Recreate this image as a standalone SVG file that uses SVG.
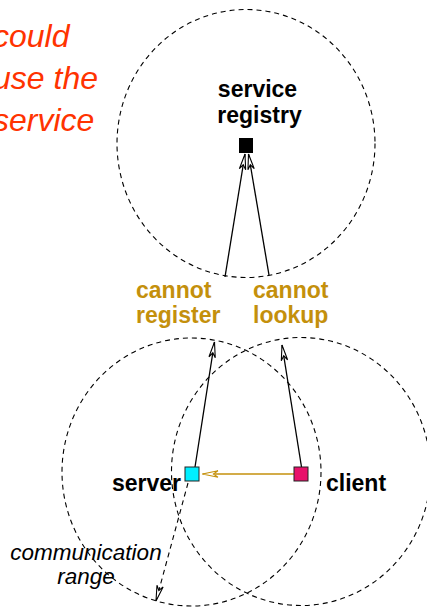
<svg xmlns="http://www.w3.org/2000/svg" width="427" height="608" viewBox="0 0 427 608">
  <style>
    .range { fill: none; stroke: #000; stroke-width: 1.1; stroke-dasharray: 5 4; }
    .lbl { font-family: "Liberation Sans", Arial, sans-serif; font-weight: bold; font-size: 23px; fill: #000; }
    .gold { font-family: "Liberation Sans", Arial, sans-serif; font-weight: bold; font-size: 23px; fill: #c4900c; }
    .note { font-family: "Liberation Sans", Arial, sans-serif; font-style: italic; font-size: 32px; fill: #ff3300; }
    .ital { font-family: "Liberation Sans", Arial, sans-serif; font-style: italic; font-size: 22.5px; fill: #000; }
    .conn { fill: none; stroke: #000; stroke-width: 1.3; }
  </style>
  <defs>
    <marker id="ah" markerUnits="userSpaceOnUse" orient="auto" refX="0" refY="0" markerWidth="20" markerHeight="10" viewBox="-20 -5 22 10" overflow="visible">
      <path d="M0,0 L-17,-3.5 L-12,0 L-17,3.5 Z" fill="#fff" stroke="#000" stroke-width="1.2" stroke-linejoin="miter"/>
    </marker>
    <marker id="ahg" markerUnits="userSpaceOnUse" orient="auto" refX="0" refY="0" markerWidth="20" markerHeight="10" viewBox="-20 -5 22 10" overflow="visible">
      <path d="M0,0 L-17,-3.5 L-12,0 L-17,3.5 Z" fill="#fff" stroke="#c4900c" stroke-width="1.2"/>
    </marker>
  </defs>
  <rect width="427" height="608" fill="#fff"/>

  <g id="note">
    <text class="note" x="-7" y="47">could</text>
    <text class="note" x="-7" y="89">use the</text>
    <text class="note" x="-7" y="131">service</text>
  </g>

  <g id="ranges">
    <ellipse class="range" cx="246" cy="143.5" rx="129" ry="134"/>
    <ellipse class="range" cx="191.5" cy="472" rx="129.5" ry="134"/>
    <ellipse class="range" cx="301" cy="471.5" rx="129.5" ry="134"/>
  </g>

  <g id="connectors">
    <line class="conn" x1="225" y1="277" x2="245" y2="154" marker-end="url(#ah)"/>
    <line class="conn" x1="269" y1="275" x2="248.5" y2="154" marker-end="url(#ah)"/>
    <line class="conn" x1="195" y1="467" x2="214.5" y2="342" marker-end="url(#ah)"/>
    <line class="conn" x1="301.5" y1="467" x2="282" y2="345" marker-end="url(#ah)"/>
    <line x1="294" y1="474" x2="202.5" y2="474" stroke="#c4900c" stroke-width="1.3" marker-end="url(#ahg)"/>
    <line x1="188" y1="483" x2="156" y2="601" stroke="#000" stroke-width="1.1" stroke-dasharray="5 4" marker-end="url(#ah)"/>
  </g>

  <g id="registry">
    <rect x="239" y="138" width="14" height="15" fill="#000"/>
    <text class="lbl" x="257.5" y="97" text-anchor="middle">service</text>
    <text class="lbl" x="259.5" y="123" text-anchor="middle">registry</text>
  </g>

  <g id="server">
    <rect x="185" y="467" width="14" height="14" fill="#00eeff" stroke="#222" stroke-width="1"/>
    <text class="lbl" x="112" y="491">server</text>
  </g>

  <g id="client">
    <rect x="294" y="467" width="14" height="14" fill="#e8106a" stroke="#222" stroke-width="1"/>
    <text class="lbl" x="326" y="491">client</text>
  </g>

  <g id="labels">
    <text class="gold" x="136" y="298">cannot</text>
    <text class="gold" x="136" y="323">register</text>
    <text class="gold" x="253" y="298">cannot</text>
    <text class="gold" x="253" y="323">lookup</text>
    <text class="ital" x="86" y="560" text-anchor="middle">communication</text>
    <text class="ital" x="86" y="584" text-anchor="middle">range</text>
  </g>
</svg>
